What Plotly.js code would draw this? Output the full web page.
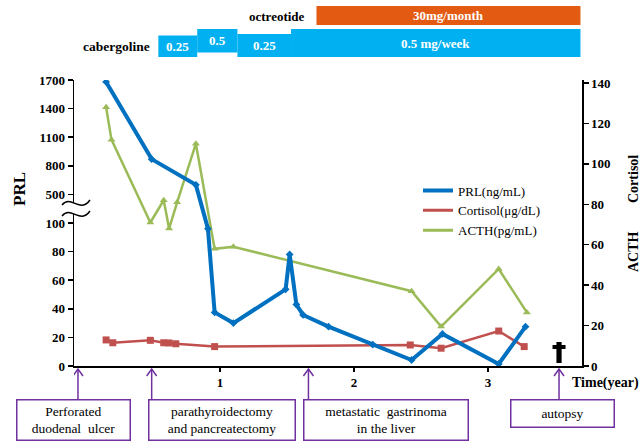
<!DOCTYPE html>
<html><head><meta charset="utf-8">
<script src="https://cdn.plot.ly/plotly-3.0.1.min.js"></script>
<style>html,body{margin:0;padding:0;background:#fff}#chart{width:644px;height:444px}</style>
</head><body><div id="chart"></div>
<script>
// ---------------- data ----------------
const prlTime  = [0.15,0.49,0.82,0.91,0.96,1.10,1.49,1.52,1.57,1.62,1.81,2.14,2.43,2.66,3.08,3.28];
const prlValue = [1680,870,600,96,37.5,30,53.6,78,43,35.7,27.5,15,4.2,22.4,1.4,27.5];
const acthTime  = [0.15,0.19,0.48,0.58,0.62,0.68,0.82,0.96,1.10,2.43,2.65,3.08,3.29];
const acthValue = [128,112,71,82,68,81,110,58,59,37,19.5,48,26.5];
const cortisolTime  = [0.15,0.20,0.48,0.58,0.62,0.67,0.96,2.42,2.65,3.08,3.27];
const cortisolValue = [12.9,11.5,12.7,11.5,11.4,11.0,9.6,10.4,8.8,17.3,9.6];
const prlTickValues = [0,20,40,60,80,100,500,800,1100,1400,1700];
const rightTickValues = [0,20,40,60,80,100,120,140];
const xTickValues = [1,2,3];
const cabergolineStart = [0.54,0.83,1.13,1.53];
const cabergolineEnd   = [0.83,1.13,1.53,3.69];
const cabergolineDose  = ['0.25','0.5','0.25','0.5 mg/week'];
const octreotideStart = [1.72];
const octreotideEnd   = [3.69];
const octreotideDose  = ['30mg/month'];
const eventTime  = [-0.06,0.49,1.66,3.53];
const eventLabel = ['Perforated<br>duodenal&nbsp; ulcer','parathyroidectomy<br>and pancreatectomy','metastatic&nbsp; gastrinoma<br>in the liver','autopsy'];
const deathTime = [3.53];

// ---------------- helpers ----------------
// broken PRL axis: 0-100 linear, 100-500 compressed into one step, 500-1700 linear
function brk(v){ if(v<=100) return v/20; if(v<=500) return 5+(v-100)/400; return 6+(v-500)/300; }
const L=74,R=582,T=80,B=366;
const px = p => (p-L)/(R-L);
const py = p => (B-p)/(B-T);
const SERIF = 'Liberation Serif';
const BLUE='#0070C0', RED='#C0504D', GREEN='#9BBB59', CYAN='#00B0F0', ORANGE='#E35B13', PURPLE='#7030A0';

// ---------------- traces ----------------
const traces = [
  {x:cortisolTime, y:cortisolValue, yaxis:'y', mode:'lines+markers', showlegend:false,
   line:{color:RED,width:2.5}, marker:{symbol:'square',size:7,color:RED}},
  {x:acthTime, y:acthValue, yaxis:'y', mode:'lines+markers', showlegend:false,
   line:{color:GREEN,width:2.5}, marker:{symbol:'triangle-up',size:7,color:GREEN}},
  {x:prlTime, y:prlValue.map(brk), yaxis:'y2', mode:'lines+markers', showlegend:false,
   line:{color:BLUE,width:4}, marker:{symbol:'diamond',size:6,color:BLUE}},
  // legend entries (line only)
  {x:[null], y:[null], yaxis:'y', mode:'lines', name:'PRL(ng/mL)', line:{color:BLUE,width:4}},
  {x:[null], y:[null], yaxis:'y', mode:'lines', name:'Cortisol(μg/dL)', line:{color:RED,width:3}},
  {x:[null], y:[null], yaxis:'y', mode:'lines', name:'ACTH(pg/mL)', line:{color:GREEN,width:3}}
];

// ---------------- shapes ----------------
const shapes = [];
const segTop = [35.5,29,34,29], segBot = [57,52.5,57,57];
cabergolineStart.forEach((s,i)=>{
  shapes.push({type:'rect', xref:'x', yref:'paper', x0:s, x1:cabergolineEnd[i], y0:py(segBot[i]), y1:py(segTop[i]),
    fillcolor:CYAN, line:{width:0}, layer:'above'});
});
octreotideStart.forEach((s,i)=>{
  shapes.push({type:'rect', xref:'x', yref:'paper', x0:s, x1:octreotideEnd[i], y0:py(25), y1:py(6),
    fillcolor:ORANGE, line:{width:0}, layer:'above'});
});
// event arrows
const dx = 5/134;
eventTime.forEach(t=>{
  shapes.push({type:'line', xref:'x', yref:'paper', x0:t, x1:t, y0:py(399), y1:py(369),
    line:{color:PURPLE,width:1.5}, layer:'above'});
  shapes.push({type:'path', xref:'x', yref:'paper',
    path:`M${t-dx},${py(376)} L${t},${py(369)} L${t+dx},${py(376)}`,
    line:{color:PURPLE,width:1.5}, layer:'above'});
});
// death cross
deathTime.forEach(t=>{
  shapes.push({type:'rect', xref:'x', yref:'paper', x0:t-2.6/134, x1:t+2.6/134, y0:py(363), y1:py(342),
    fillcolor:'#000', line:{width:0}, layer:'above'});
  shapes.push({type:'rect', xref:'x', yref:'paper', x0:t-6.5/134, x1:t+6.5/134, y0:py(349), y1:py(345),
    fillcolor:'#000', line:{width:0}, layer:'above'});
});
// axis break symbol
function P(x,y){ return px(x)+','+py(y); }
shapes.push({type:'path', xref:'paper', yref:'paper',
  path:`M${P(62,205)} C${P(71,194)} ${P(80,214)} ${P(90,200)} L${P(90,211)} C${P(80,225)} ${P(71,205)} ${P(62,216)} Z`,
  fillcolor:'#fff', line:{width:0}, layer:'above'});
shapes.push({type:'path', xref:'paper', yref:'paper',
  path:`M${P(62,205)} C${P(71,194)} ${P(80,214)} ${P(90,200)}`, line:{color:'#000',width:1.5}, layer:'above'});
shapes.push({type:'path', xref:'paper', yref:'paper',
  path:`M${P(62,216)} C${P(71,205)} ${P(80,225)} ${P(90,211)}`, line:{color:'#000',width:1.5}, layer:'above'});

// ---------------- annotations ----------------
const ann = [];
function txt(o){ return Object.assign({showarrow:false, xanchor:'center', yanchor:'middle'}, o); }
const segLabelY = [46.5,41,45.5,43.5];
cabergolineDose.forEach((d,i)=>{
  ann.push(txt({xref:'x', yref:'paper', x:(cabergolineStart[i]+cabergolineEnd[i])/2, y:py(segLabelY[i]),
    text:d, font:{family:SERIF,size:13,weight:'bold',color:'#fff'}}));
});
octreotideDose.forEach((d,i)=>{
  ann.push(txt({xref:'x', yref:'paper', x:(octreotideStart[i]+octreotideEnd[i])/2, y:py(15.5),
    text:d, font:{family:SERIF,size:13,weight:'bold',color:'#fff'}}));
});
ann.push(txt({xref:'paper', yref:'paper', x:px(277), y:py(16), text:'octreotide',
  font:{family:SERIF,size:13,weight:'bold',color:'#000'}}));
ann.push(txt({xref:'paper', yref:'paper', x:px(116), y:py(47), text:'cabergoline',
  font:{family:SERIF,size:13.5,weight:'bold',color:'#000'}}));
ann.push(txt({xref:'paper', yref:'paper', x:px(19), y:py(189), text:'PRL', textangle:-90,
  font:{family:SERIF,size:17,weight:'bold',color:'#000'}}));
ann.push(txt({xref:'paper', yref:'paper', x:px(633), y:py(179), text:'Cortisol', textangle:-90,
  font:{family:SERIF,size:14,weight:'bold',color:'#000'}}));
ann.push(txt({xref:'paper', yref:'paper', x:px(633), y:py(252), text:'ACTH', textangle:-90,
  font:{family:SERIF,size:14,weight:'bold',color:'#000'}}));
ann.push(txt({xref:'paper', yref:'paper', x:px(605), y:py(383), text:'Time(year)',
  font:{family:SERIF,size:14,weight:'bold',color:'#000'}}));
const boxC = [[73.5,420],[222,420],[386,420],[562.5,413.5]];
const boxW = [115,148,166,105], boxH = [42,42,42,29];
eventLabel.forEach((lab,i)=>{
  ann.push(txt({xref:'paper', yref:'paper', x:px(boxC[i][0]), y:py(boxC[i][1]),
    text:lab, width:boxW[i]-5, height:boxH[i]-5, borderpad:1, borderwidth:1.5,
    bordercolor:PURPLE, bgcolor:'#fff', align:'center', valign:'middle',
    font:{family:SERIF,size:13.5,color:'#000'}}));
});

// ---------------- layout ----------------
const tickFont = {family:SERIF,size:13,weight:'bold',color:'#000'};
const layout = {
  width:644, height:444,
  margin:{l:L, r:644-R, t:T, b:444-B, pad:0},
  paper_bgcolor:'#fff', plot_bgcolor:'#fff',
  showlegend:true,
  legend:{x:px(418), y:py(175.5), xanchor:'left', yanchor:'top', bgcolor:'rgba(0,0,0,0)',
    font:{family:SERIF,size:13,color:'#000'}, tracegroupgap:0},
  xaxis:{range:[-0.0896,3.7015], tickvals:xTickValues, ticktext:xTickValues.map(String),
    ticks:'outside', ticklen:4, tickwidth:1.5, tickcolor:'#000',
    showline:true, linecolor:'#000', linewidth:1.5, showgrid:false, zeroline:false, tickfont:tickFont},
  yaxis:{side:'right', range:[0,141.5], tickvals:rightTickValues, ticktext:rightTickValues.map(String),
    ticks:'outside', ticklen:5, tickwidth:1.5, tickcolor:'#000',
    showline:true, linecolor:'#000', linewidth:1.5, showgrid:false, zeroline:false, tickfont:tickFont},
  yaxis2:{overlaying:'y', side:'left', range:[0,10], tickvals:prlTickValues.map(brk), ticktext:prlTickValues.map(String),
    ticks:'outside', ticklen:5, tickwidth:1.5, tickcolor:'#000',
    showline:true, linecolor:'#000', linewidth:1.5, showgrid:false, zeroline:false, tickfont:tickFont},
  shapes:shapes,
  annotations:ann
};
Plotly.newPlot('chart', traces, layout, {displayModeBar:false, staticPlot:true});
</script>
</body></html>
